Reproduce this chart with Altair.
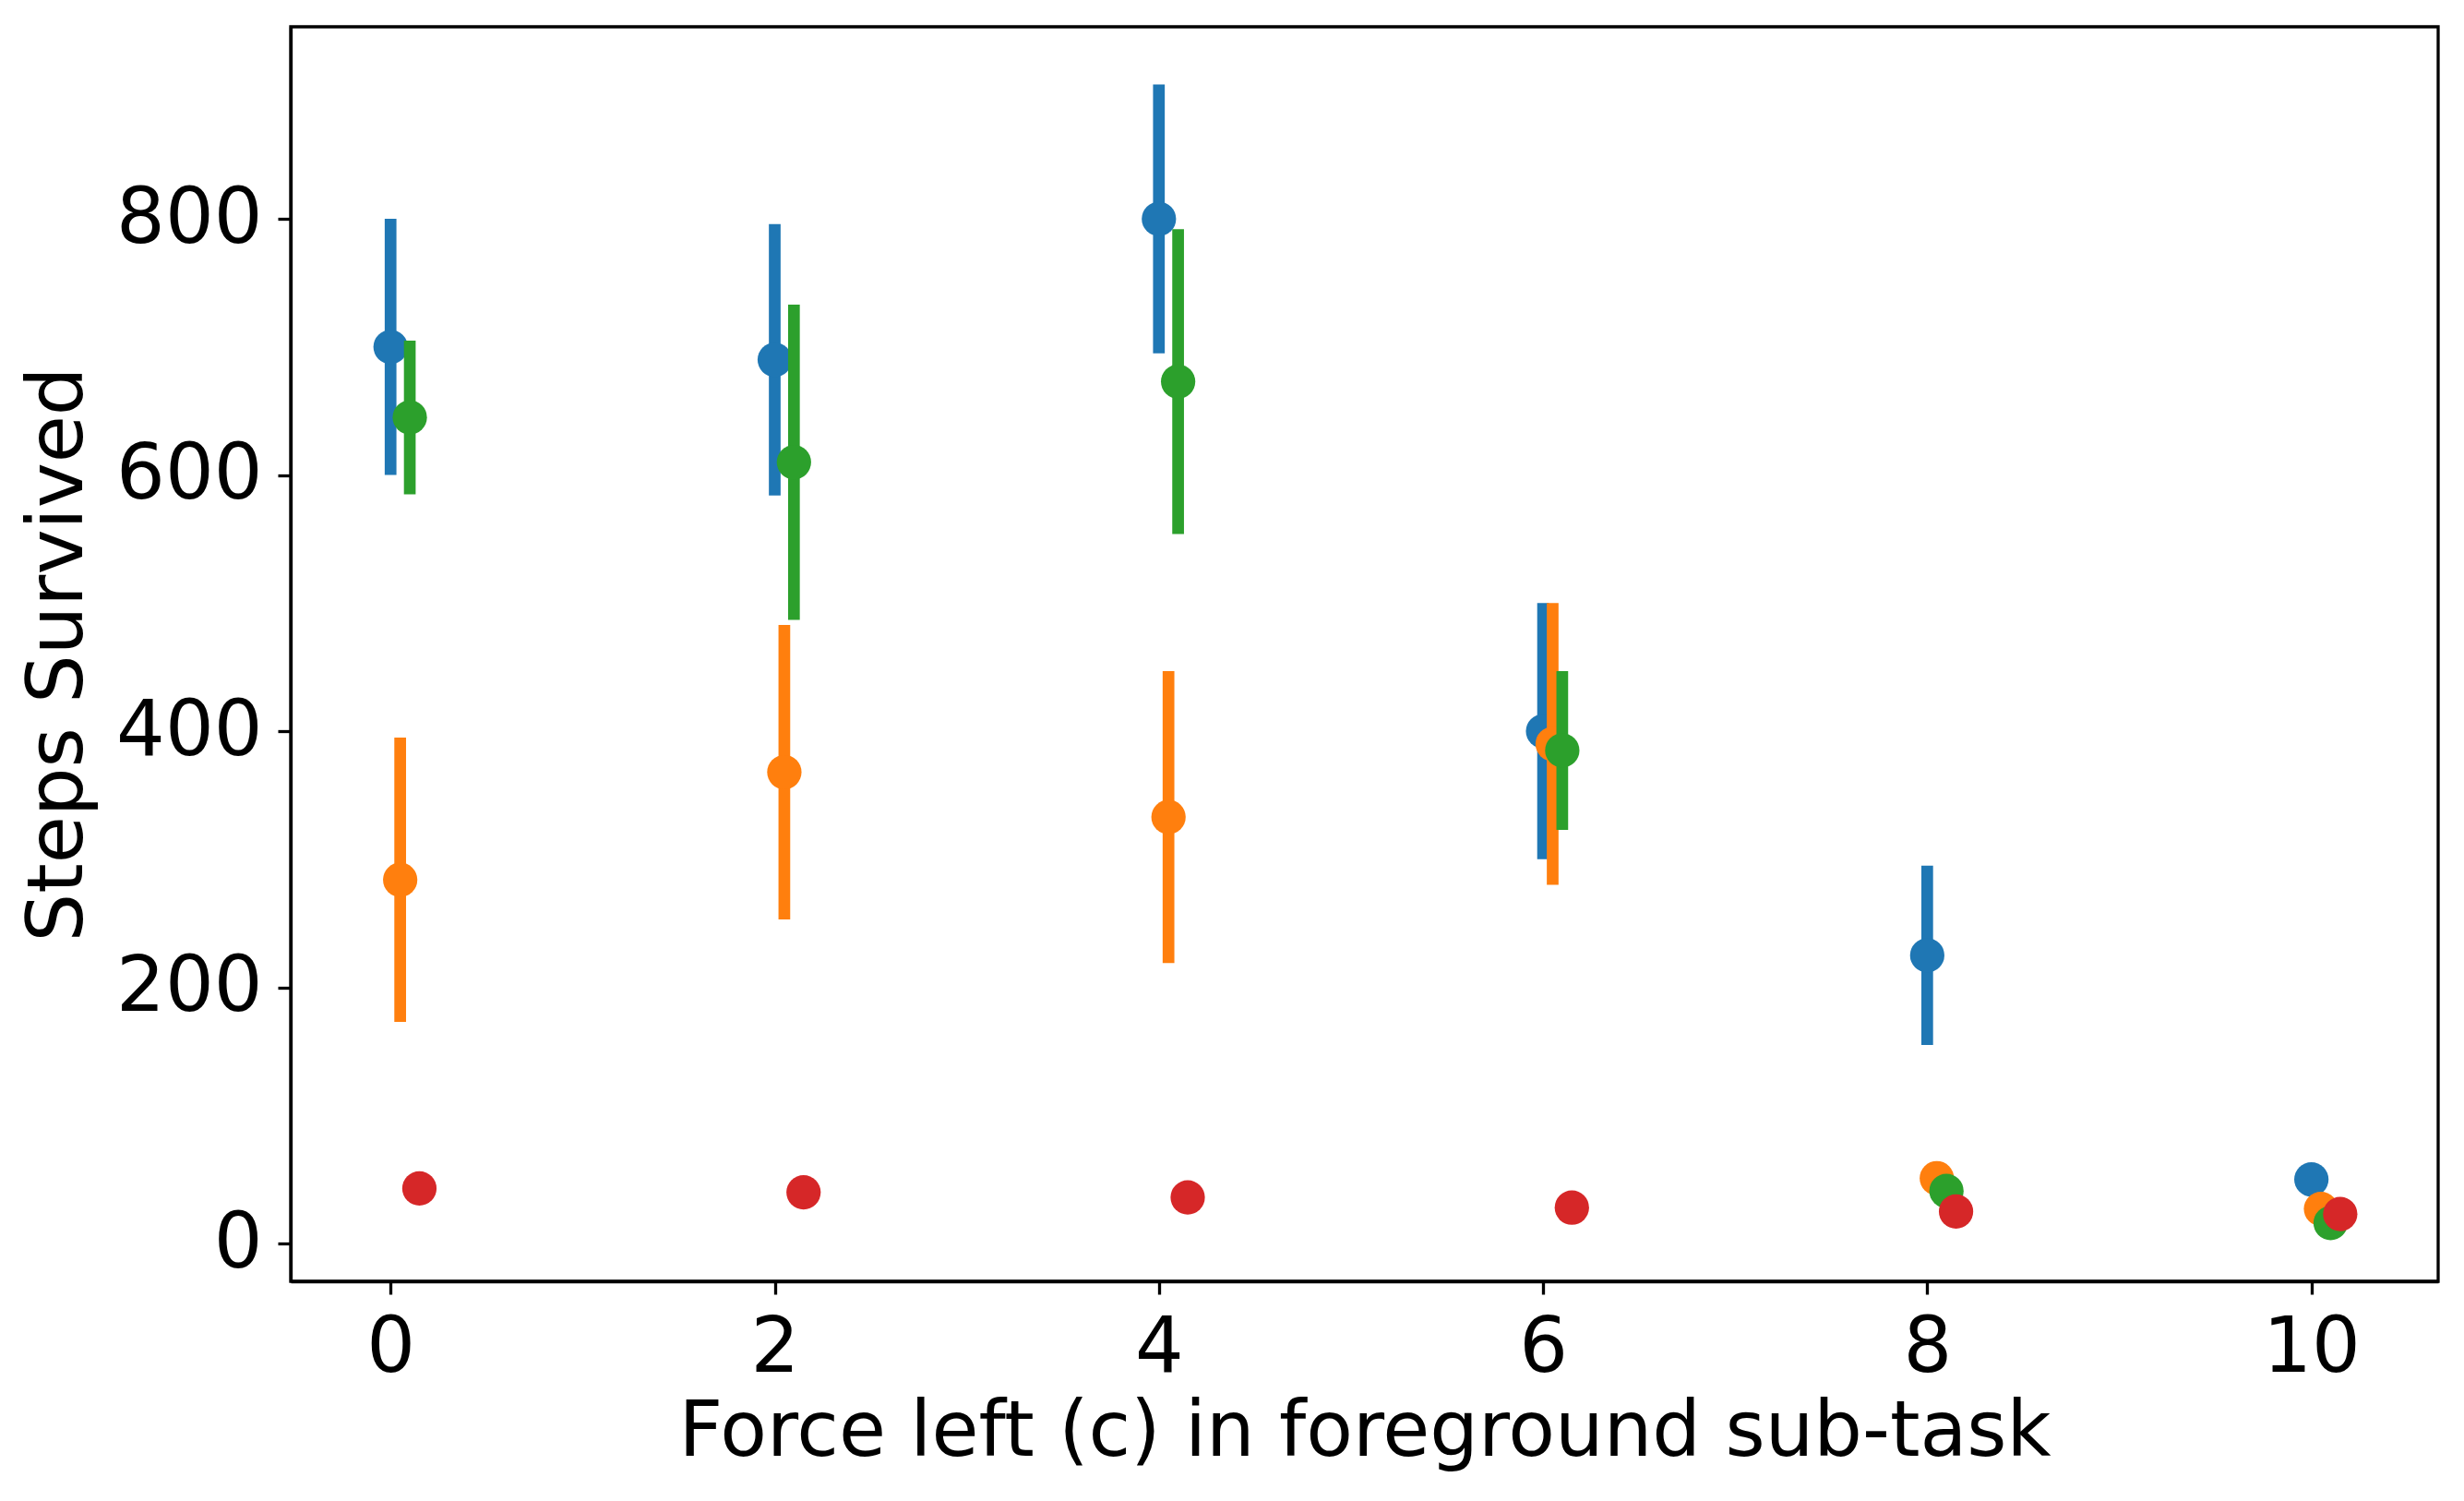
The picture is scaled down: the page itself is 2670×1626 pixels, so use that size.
import altair as alt
import pandas as pd

x_values = [0, 2, 4, 6, 8, 10]
series_names = ["A", "B", "C", "D"]
series_colors = ["#1f77b4", "#ff7f0e", "#2ca02c", "#d62728"]
x_offsets = [0.0, 0.05, 0.10, 0.15]

blue_mean = [700, 690, 800, 400, 225, 50]
blue_err = [100, 106, 105, 100, 70, 2]
orange_mean = [284, 368, 333, 390, 51, 27]
orange_err = [111, 115, 114, 110, 3, 2]
green_mean = [645, 610, 673, 385, 41, 16]
green_err = [60, 123, 119, 62, 12, 2]
red_mean = [43, 40, 36, 28, 25, 23]
red_err = [2, 2, 2, 2, 2, 2]

means = [blue_mean, orange_mean, green_mean, red_mean]
errs = [blue_err, orange_err, green_err, red_err]

x_scale = alt.Scale(domain=[-0.52, 10.66], nice=False, zero=False)
y_scale = alt.Scale(domain=[-29.5, 950], nice=False, zero=False)

layers = []
for i, name in enumerate(series_names):
    df = pd.DataFrame({
        "x": [v + x_offsets[i] for v in x_values],
        "mean": means[i],
        "lo": [m - e for m, e in zip(means[i], errs[i])],
        "hi": [m + e for m, e in zip(means[i], errs[i])],
    })
    base = alt.Chart(df)
    x_enc = alt.X("x:Q", scale=x_scale,
                  axis=alt.Axis(values=[0, 2, 4, 6, 8, 10], title="Force left (c) in foreground sub-task"))
    rule = base.mark_rule(color=series_colors[i], strokeWidth=12.7, strokeCap="butt").encode(
        x=x_enc,
        y=alt.Y("lo:Q", scale=y_scale,
                axis=alt.Axis(values=[0, 200, 400, 600, 800], title="Steps Survived")),
        y2="hi:Q",
    )
    pts = base.mark_circle(color=series_colors[i], size=1385, opacity=1).encode(
        x=x_enc,
        y=alt.Y("mean:Q", scale=y_scale),
    )
    layers += [rule, pts]

chart = alt.layer(*layers).properties(
    width=2327,
    height=1359,
    padding={"left": 307, "top": 21, "right": 20, "bottom": 230},
    autosize=alt.AutoSizeParams(type="none"),
).configure_view(
    stroke="black", strokeWidth=3.3
).configure_axis(
    grid=False,
    domainColor="black",
    domainWidth=3.3,
    tickColor="black",
    tickWidth=3.3,
    tickSize=14,
    labelFont="DejaVu Sans",
    labelFontSize=83,
    labelColor="black",
    labelPadding=17,
    titleFont="DejaVu Sans",
    titleFontSize=83,
    titleFontWeight="normal",
    titleColor="black",
).configure_axisY(
    titlePadding=20,
).configure_axisX(
    titlePadding=8,
)

chart.save("out.html", embed_options={"renderer": "svg", "actions": False})
